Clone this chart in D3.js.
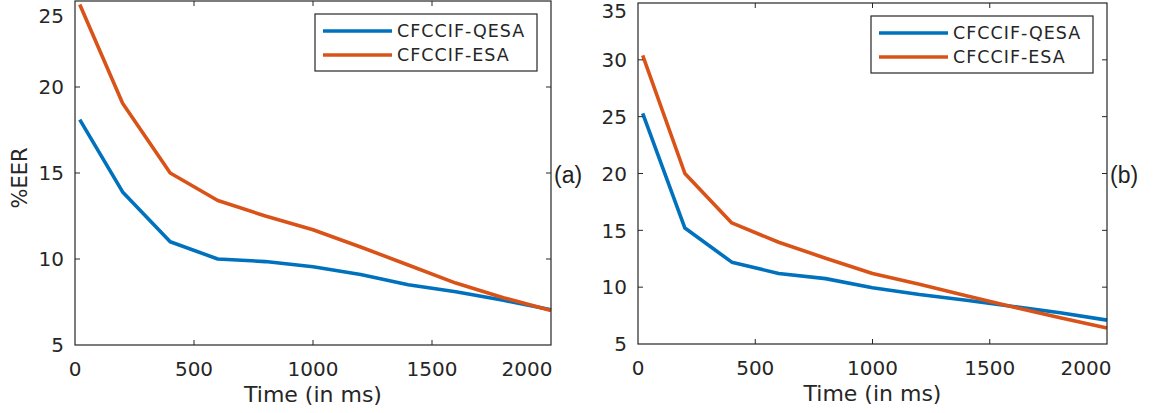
<!DOCTYPE html>
<html>
<head>
<meta charset="utf-8">
<script src="https://cdn.jsdelivr.net/npm/d3@7"></script>
<style>
  html, body { margin: 0; padding: 0; background: #fff; }
  svg { display: block; font-family: "DejaVu Sans", sans-serif; }
</style>
</head>
<body>
<div id="chart"></div>
<script>
const times = [20, 200, 400, 600, 800, 1000, 1200, 1400, 1600, 1800, 2000];
const seriesNames = ["CFCCIF-QESA", "CFCCIF-ESA"];
const seriesColors = ["#0072BD", "#D95319"];

// panel (a)
const qesaA = [18.1, 13.9, 11.0, 10.0, 9.85, 9.55, 9.1, 8.5, 8.1, 7.6, 7.05];
const esaA = [24.8, 19.05, 15.0, 13.4, 12.5, 11.7, 10.7, 9.65, 8.6, 7.75, 7.0];
// panel (b)
const qesaB = [25.3, 15.2, 12.2, 11.2, 10.75, 9.95, 9.35, 8.85, 8.3, 7.75, 7.1];
const esaB = [30.4, 20.0, 15.65, 13.95, 12.55, 11.2, 10.25, 9.25, 8.25, 7.3, 6.4];

const xTicks = [0, 500, 1000, 1500, 2000];
const yTicksA = [5, 10, 15, 20, 25];
const yTicksB = [5, 10, 15, 20, 25, 30, 35];

const width = 1164;
const height = 413;
const axisColor = "#262626";

const svg = d3.select("#chart")
  .append("svg")
  .attr("width", width)
  .attr("height", height);

function drawPanel(opts) {
  const x = d3.scaleLinear().domain([0, 2000]).range([opts.left, opts.right]);
  const y = d3.scaleLinear().domain(opts.yDomain).range([opts.bottom, opts.top]);
  const g = svg.append("g");

  // data lines
  const line = d3.line()
    .x((d, i) => x(times[i]))
    .y((d) => y(d));

  opts.series.forEach((values, i) => {
    g.append("path")
      .datum(values)
      .attr("fill", "none")
      .attr("stroke", seriesColors[i])
      .attr("stroke-width", 3.6)
      .attr("stroke-linejoin", "round")
      .attr("d", line);
  });

  // box
  g.append("rect")
    .attr("x", opts.left)
    .attr("y", opts.top)
    .attr("width", opts.right - opts.left)
    .attr("height", opts.bottom - opts.top)
    .attr("fill", "none")
    .attr("stroke", axisColor)
    .attr("stroke-width", 1.2);

  // inward ticks on all four sides
  const tickLen = 5;
  const inner = (v) => v > 0 && v < 2000;
  xTicks.filter(inner).forEach((t) => {
    g.append("line")
      .attr("x1", x(t)).attr("x2", x(t))
      .attr("y1", opts.bottom).attr("y2", opts.bottom - tickLen)
      .attr("stroke", axisColor);
    g.append("line")
      .attr("x1", x(t)).attr("x2", x(t))
      .attr("y1", opts.top).attr("y2", opts.top + tickLen)
      .attr("stroke", axisColor);
  });
  opts.yTicks.slice(1, -1).forEach((t) => {
    g.append("line")
      .attr("x1", opts.left).attr("x2", opts.left + tickLen)
      .attr("y1", y(t)).attr("y2", y(t))
      .attr("stroke", axisColor);
    g.append("line")
      .attr("x1", opts.right).attr("x2", opts.right - tickLen)
      .attr("y1", y(t)).attr("y2", y(t))
      .attr("stroke", axisColor);
  });

  // tick labels (end labels pushed inward like in the original figure)
  xTicks.forEach((t, i) => {
    const shift = i === xTicks.length - 1 ? -opts.xEndShift : 0;
    g.append("text")
      .attr("x", x(t) + shift)
      .attr("y", opts.bottom + 31)
      .attr("text-anchor", "middle")
      .attr("fill", axisColor)
      .style("font-size", "20px")
      .text(t);
  });
  opts.yTicks.forEach((t, i) => {
    const shift = i === opts.yTicks.length - 1 ? opts.yEndShift : 0;
    g.append("text")
      .attr("x", opts.left - 11)
      .attr("y", y(t) + shift)
      .attr("dy", "0.36em")
      .attr("text-anchor", "end")
      .attr("fill", axisColor)
      .style("font-size", "20px")
      .text(t);
  });

  // x axis title
  g.append("text")
    .attr("x", (opts.left + opts.right) / 2)
    .attr("y", opts.bottom + 57)
    .attr("text-anchor", "middle")
    .attr("fill", axisColor)
    .style("font-size", "22px")
    .text("Time (in ms)");

  // legend
  const lg = g.append("g")
    .attr("transform", `translate(${opts.right - 236},${opts.top + 13})`);
  lg.append("rect")
    .attr("width", 222)
    .attr("height", 57)
    .attr("fill", "#fff")
    .attr("stroke", axisColor)
    .attr("stroke-width", 1.2);
  seriesNames.forEach((name, i) => {
    const cy = 17 + i * 24;
    lg.append("line")
      .attr("x1", 8).attr("x2", 77)
      .attr("y1", cy).attr("y2", cy)
      .attr("stroke", seriesColors[i])
      .attr("stroke-width", 3.6);
    lg.append("text")
      .attr("x", 82)
      .attr("y", cy)
      .attr("dy", "0.36em")
      .attr("fill", axisColor)
      .style("font-size", "17.5px")
      .style("letter-spacing", "1px")
      .text(name);
  });

  // panel tag
  g.append("text")
    .attr("x", opts.right + 3)
    .attr("y", 175)
    .attr("dy", "0.36em")
    .attr("fill", "#222")
    .style("font-family", "'Liberation Sans', Arial, sans-serif")
    .style("font-size", "23px")
    .text(opts.tag);
}

drawPanel({
  left: 75, right: 551, top: 1, bottom: 345,
  yDomain: [5, 25], yTicks: yTicksA,
  yEndShift: 15, xEndShift: 24,
  series: [qesaA, esaA], tag: "(a)"
});

drawPanel({
  left: 638, right: 1107, top: 3, bottom: 344,
  yDomain: [5, 35], yTicks: yTicksB,
  yEndShift: 8, xEndShift: 21,
  series: [qesaB, esaB], tag: "(b)"
});

// y axis title of panel (a)
svg.append("text")
  .attr("transform", "translate(27,178) rotate(-90)")
  .attr("text-anchor", "middle")
  .attr("fill", axisColor)
  .style("font-size", "21px")
  .text("%EER");
</script>
</body>
</html>
